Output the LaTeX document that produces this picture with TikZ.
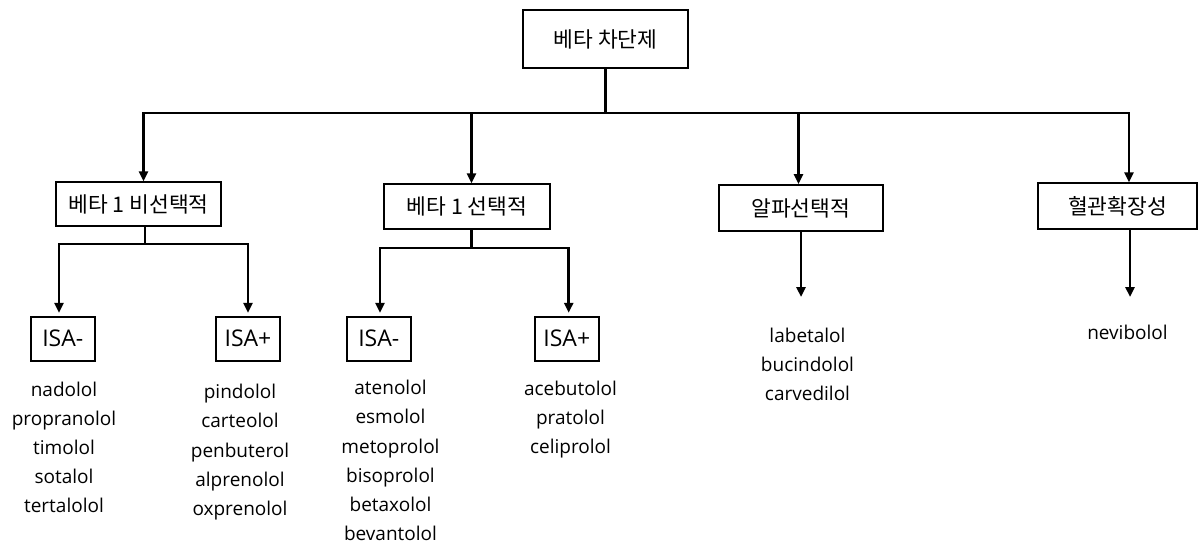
\documentclass[tikz,border=0pt]{standalone}
\usepackage{fontspec}
\setmainfont{Open Sans}
\newfontfamily\krfont{Noto Sans CJK KR}
\usetikzlibrary{arrows.meta}
\begin{document}
\begin{tikzpicture}[x=1pt,y=-1pt,
  kbox/.style={draw, line width=1.8pt, inner sep=0pt, font=\krfont\fontsize{21.5}{25}\selectfont},
  isabox/.style={draw, line width=1.8pt, inner sep=0pt, minimum height=44pt, minimum width=64pt, font=\fontsize{23}{27}\selectfont},
  conn/.style={line width=2.8pt},
  arr/.style={conn, -{Triangle[length=10pt,width=9pt]}},
  druglist/.style={align=center, inner sep=0pt, anchor=north, font=\fontsize{19}{29.2}\selectfont}
]
\fill[white] (0,0) rectangle (1202,543);
\useasboundingbox (0,0) rectangle (1202,543);

\node[kbox, minimum width=165pt, minimum height=58pt] (top) at (605.5,39) {베타 차단제};
\node[kbox, minimum width=164.5pt, minimum height=43.5pt] (b1) at (138.5,204) {베타 1 비선택적};
\node[kbox, minimum width=166pt, minimum height=45pt] (b2) at (467,206.7) {베타 1 선택적};
\node[kbox, minimum width=164pt, minimum height=46pt] (b3) at (800.7,208) {알파선택적};
\node[kbox, minimum width=159pt, minimum height=45.5pt] (b4) at (1117.5,206) {혈관확장성};

\node[isabox] (ia) at (62.75,338.7) {ISA-};
\node[isabox] (ib) at (248,338.7) {ISA+};
\node[isabox] (ic) at (378.8,338.7) {ISA-};
\node[isabox] (id) at (566.8,338.7) {ISA+};

\coordinate (j0) at (605.5,113);
\coordinate (jL) at (143.5,113);
\coordinate (jR) at (1129,113);
\coordinate (j2) at (471.5,113);
\coordinate (j3) at (798.5,113);

\draw[conn] (top.south) -- (j0);
\draw[arr] (j0) -| (jL |- b1.north);
\draw[arr] (j0) -| (jR |- b4.north);
\draw[arr] (j2) -- (j2 |- b2.north);
\draw[arr] (j3) -- (j3 |- b3.north);

\coordinate (k1) at (145,244);
\coordinate (k1a) at (59,244);
\coordinate (k1b) at (248,244);
\draw[conn] (b1.south -| k1) -- (k1);
\draw[arr, shorten >=3pt] (k1) -| (k1a |- ia.north);
\draw[arr, shorten >=3pt] (k1) -| (k1b |- ib.north);

\coordinate (k2) at (471.5,248);
\coordinate (k2a) at (380,248);
\coordinate (k2b) at (568.7,248);
\draw[conn] (b2.south -| k2) -- (k2);
\draw[arr, shorten >=3pt] (k2) -| (k2a |- ic.north);
\draw[arr, shorten >=3pt] (k2) -| (k2b |- id.north);

\coordinate (e3) at (801,297);
\coordinate (e4) at (1130,297);
\draw[arr] (b3.south -| e3) -- (e3);
\draw[arr] (b4.south -| e4) -- (e4);

\node[druglist] (la) at (64,381.5) {nadolol\\propranolol\\timolol\\sotalol\\tertalolol};
\node[druglist] (lb) at (240,384) {pindolol\\carteolol\\penbuterol\\alprenolol\\oxprenolol};
\node[druglist] (lc) at (390.5,380) {atenolol\\esmolol\\metoprolol\\bisoprolol\\betaxolol\\bevantolol};
\node[druglist] (ld) at (570.5,380.5) {acebutolol\\pratolol\\celiprolol};
\node[druglist] (le) at (807.5,327.5) {labetalol\\bucindolol\\carvedilol};
\node[druglist] (lf) at (1127.5,324.5) {nevibolol};
\end{tikzpicture}
\end{document}
